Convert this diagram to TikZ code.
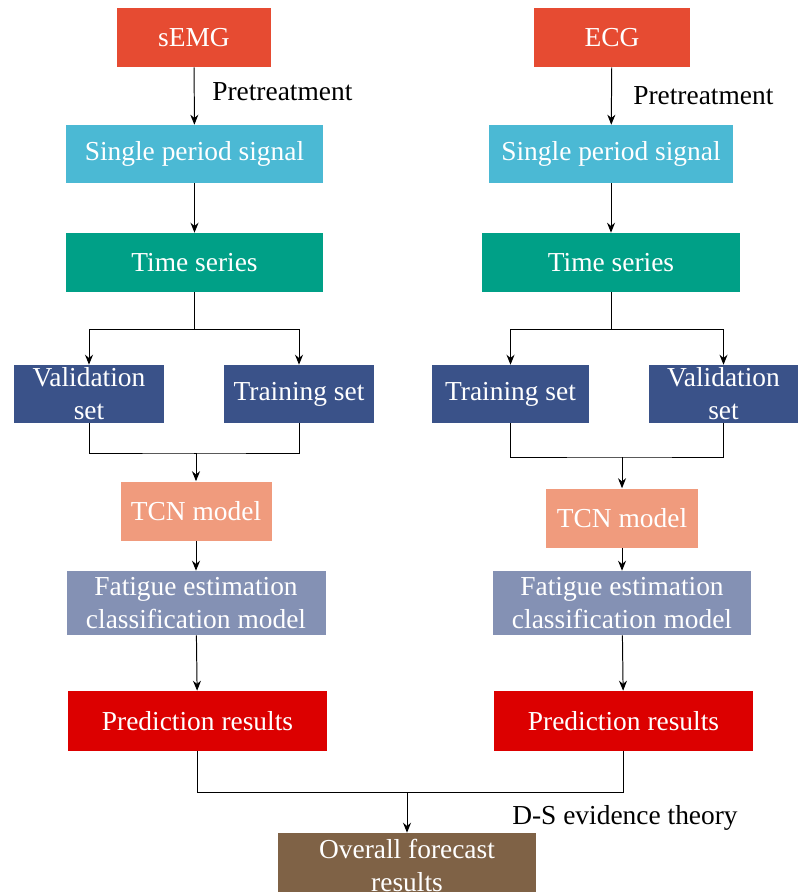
\documentclass[tikz,border=0pt]{standalone}
\usepackage{fontspec}
\setmainfont{Liberation Serif}
\usetikzlibrary{arrows.meta}
\definecolor{sourceColor}{RGB}{230,75,50}
\definecolor{signalColor}{RGB}{75,185,212}
\definecolor{seriesColor}{RGB}{0,160,135}
\definecolor{setColor}{RGB}{58,82,137}
\definecolor{tcnColor}{RGB}{240,155,125}
\definecolor{fatigueColor}{RGB}{132,145,180}
\definecolor{predictColor}{RGB}{220,0,0}
\definecolor{overallColor}{RGB}{127,98,70}
\tikzstyle{flowBoxStyle} = [rectangle, inner sep=0pt, text=white, align=center, font=\fontsize{19.5}{23.5}\selectfont]
\tikzstyle{flowLine} = [color=black, line width=0.7pt]
\tikzstyle{flowArrow} = [flowLine, -{Stealth[length=2.5mm, width=2mm]}]
\tikzstyle{sideText} = [anchor=west, inner sep=0pt, font=\fontsize{19.5}{23.5}\selectfont]
\newcommand{\flowBox}[6]{\node [flowBoxStyle, fill=#2, minimum width=#3*0.025cm, minimum height=#4*0.025cm] (#1) at (#5) {#6};}
\begin{document}
\begin{tikzpicture}[x=0.025cm, y=-0.025cm]
  \useasboundingbox (0,0) rectangle (798,892);
  % left branch
  \flowBox{semg}{sourceColor}{154}{59}{194,37.5}{sEMG}
  \flowBox{signalL}{signalColor}{257}{58}{194.5,154}{Single period signal}
  \flowBox{seriesL}{seriesColor}{257}{59}{194.5,262.5}{Time series}
  \flowBox{validL}{setColor}{150}{58}{89,394}{Validation\\set}
  \flowBox{trainL}{setColor}{150}{58}{299,394}{Training set}
  \flowBox{tcnL}{tcnColor}{151}{59}{196,511}{TCN model}
  \flowBox{fatigueL}{fatigueColor}{259}{64}{196,603}{Fatigue estimation\\classification model}
  \flowBox{predictL}{predictColor}{259}{60}{197.5,721}{Prediction results}
  % right branch
  \flowBox{ecg}{sourceColor}{156}{59}{612,37.5}{ECG}
  \flowBox{signalR}{signalColor}{244}{58}{611,154}{Single period signal}
  \flowBox{seriesR}{seriesColor}{258}{59}{611,262.5}{Time series}
  \flowBox{trainR}{setColor}{157}{58}{510.5,394}{Training set}
  \flowBox{validR}{setColor}{149}{58}{723.5,394}{Validation\\set}
  \flowBox{tcnR}{tcnColor}{152}{59}{622,518}{TCN model}
  \flowBox{fatigueR}{fatigueColor}{258}{64}{622,603}{Fatigue estimation\\classification model}
  \flowBox{predictR}{predictColor}{259}{60}{623.5,721}{Prediction results}
  % fusion
  \flowBox{overall}{overallColor}{258}{64}{407,865}{Overall forecast\\results}

  \node [sideText] (pretreatL) at (212,92) {Pretreatment};
  \node [sideText] (pretreatR) at (633,96) {Pretreatment};
  \node [sideText] (fusionText) at (512,818) {D-S evidence theory};

  \draw [flowArrow] (semg) -- (signalL);
  \draw [flowArrow] (signalL) -- (seriesL);
  \draw [flowArrow] (ecg) -- (signalR);
  \draw [flowArrow] (signalR) -- (seriesR);

  \coordinate (splitL) at (194.5,329);
  \coordinate (splitR) at (611,329);
  \draw [flowLine] (seriesL.south) -- (splitL);
  \draw [flowArrow] (splitL) -| (validL.north);
  \draw [flowArrow] (splitL) -| (trainL.north);
  \draw [flowLine] (seriesR.south) -- (splitR);
  \draw [flowArrow] (splitR) -| (trainR.north);
  \draw [flowArrow] (splitR) -| (validR.north);

  \coordinate (joinL) at (194,453);
  \coordinate (joinR) at (622,457);
  \draw [flowLine] (validL.south) |- (joinL) -| (trainL.south);
  \draw [flowArrow] (joinL) -- (joinL -| tcnL.north) -- (tcnL.north);
  \draw [flowLine] (trainR.south) |- (joinR) -| (validR.south);
  \draw [flowArrow] (joinR) -- (tcnR.north);

  \draw [flowArrow] (tcnL) -- (fatigueL);
  \draw [flowArrow] (fatigueL) -- (predictL);
  \draw [flowArrow] (tcnR) -- (fatigueR);
  \draw [flowArrow] (fatigueR) -- (predictR);

  \coordinate (fusion) at (407,792);
  \draw [flowLine] (predictL.south) |- (fusion) -| (predictR.south);
  \draw [flowArrow] (fusion) -- (overall.north);
\end{tikzpicture}
\end{document}
